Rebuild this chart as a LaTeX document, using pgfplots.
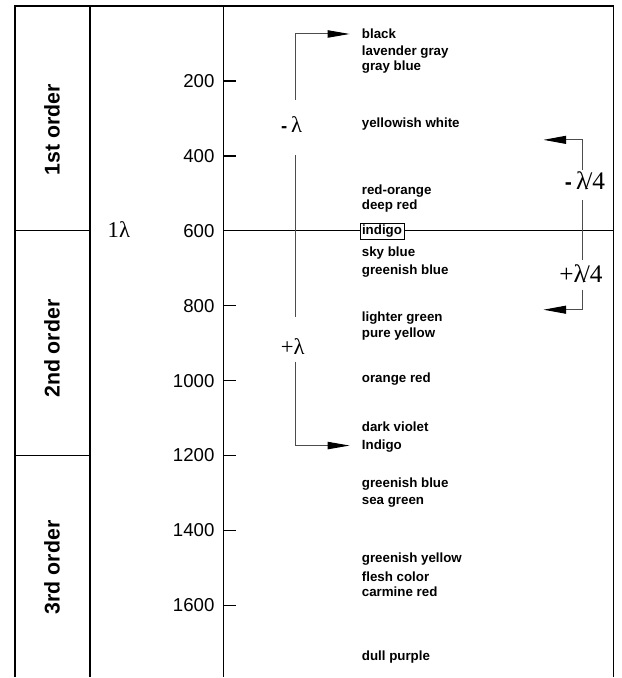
\documentclass[border=0pt]{standalone}
\usepackage{pgfplots}
\pgfplotsset{compat=1.18}
\usepackage{pgfplotstable}
\usepackage{fontspec}
\setmainfont{Liberation Sans}
\newfontfamily\serifl{Liberation Serif}
\usetikzlibrary{arrows.meta}

\pgfplotstableread[col sep=comma]{
x,y,label
362,86,black
362,131,lavender gray
362,173,gray blue
362,325,yellowish white
362,504,red-orange
362,543,deep red
362,669,sky blue
362,717,greenish blue
362,842,lighter green
362,885,pure yellow
362,1005,orange red
362,1135,dark violet
362,1184,Indigo
362,1285,greenish blue
362,1331,sea green
362,1485,greenish yellow
362,1535,flesh color
362,1575,carmine red
362,1746,dull purple
}\colornames

\newcommand{\hy}{{\normalfont\bfseries\fontsize{14}{14}\selectfont -}}

\begin{document}
\begin{tikzpicture}
\begin{axis}[
  x=0.75pt, y=0.28125pt, y dir=reverse,
  xmin=224, xmax=614, ymin=0, ymax=1792,
  axis x line=none, axis y line=left,
  axis line style={-, line width=1pt, black},
  ytick={200,400,...,1600},
  tick align=inside, major tick length=9pt,
  tick style={line width=1pt, black},
  yticklabel style={font=\fontsize{14}{14}\selectfont, xshift=-3.5pt},
  /pgf/number format/assume math mode=true,
  /pgf/number format/set thousands separator={},
  clip=false,
]
\path (axis cs:0,-16) rectangle (axis cs:622,1792);
% frame
\draw[line width=1pt] (axis cs:15,1792) -- (axis cs:15,0) -- (axis cs:614,0) -- (axis cs:614,1792);
\draw[line width=1pt] (axis cs:90,0) -- (axis cs:90,1792);
\draw[line width=1pt] (axis cs:15,600) -- (axis cs:90,600);
\draw[line width=1pt] (axis cs:15,1200) -- (axis cs:90,1200);
\draw[line width=1pt] (axis cs:224,600) -- (axis cs:614,600);

% order labels
\node[rotate=90, font=\bfseries\fontsize{16}{16}\selectfont] at (axis cs:52,330.7) {1st order};
\node[rotate=90, font=\bfseries\fontsize{16}{16}\selectfont] at (axis cs:52,914.7) {2nd order};
\node[rotate=90, font=\bfseries\fontsize{16}{16}\selectfont] at (axis cs:52,1498.7) {3rd order};
\node[anchor=base, font=\serifl\fontsize{17}{17}\selectfont] at (axis cs:119,618.7) {1λ};

% brackets
\addplot[mark=none, gray!60!black, line width=0.75pt, -{Triangle[length=16.5pt,width=5.5pt,color=black]}] coordinates {(296,250.7) (296,74.7) (350,74.7)};
\addplot[mark=none, gray!60!black, line width=0.75pt] coordinates {(296,397.3) (296,829.3)};
\addplot[mark=none, gray!60!black, line width=0.75pt, -{Triangle[length=16.5pt,width=5.5pt,color=black]}] coordinates {(296,949.3) (296,1173.3) (350,1173.3)};
\addplot[mark=none, gray!60!black, line width=0.75pt, -{Triangle[length=17pt,width=6pt,color=black]}] coordinates {(583,437.3) (583,357.3) (544,357.3)};
\addplot[mark=none, gray!60!black, line width=0.75pt] coordinates {(583,517.3) (583,677.3)};
\addplot[mark=none, gray!60!black, line width=0.75pt, -{Triangle[length=17pt,width=6pt,color=black]}] coordinates {(583,757.3) (583,810.7) (544,810.7)};

\node[anchor=base, font=\serifl\fontsize{17}{17}\selectfont, inner sep=0pt] at (axis cs:292,338.7) {\hy\,λ};
\node[anchor=base, font=\serifl\fontsize{17}{17}\selectfont, inner sep=0pt] at (axis cs:293,930.7) {+λ};
\node[anchor=base, font=\serifl\fontsize{19}{19}\selectfont, fill=white, inner sep=1pt] at (axis cs:585.5,490.7) {{\normalfont\bfseries\fontsize{16}{16}\selectfont -}\,λ\kern-0.12em/4};
\node[anchor=base, font=\serifl\fontsize{19}{19}\selectfont, fill=white, inner sep=1pt] at (axis cs:581.5,738.7) {+λ\kern-0.12em/4};

% colour names
\addplot[draw=none, mark=none, nodes near coords, point meta=explicit symbolic,
  nodes near coords style={anchor=base west, inner sep=0pt, font=\bfseries\fontsize{10}{12}\selectfont}]
  table[x=x, y=y, meta=label] {\colornames};
\addplot[draw=none, mark=none, nodes near coords, point meta=explicit symbolic,
  nodes near coords style={anchor=base west, draw=black, fill=white, line width=0.6pt, inner xsep=1.5pt, inner ysep=1.2pt, font=\bfseries\fontsize{10}{12}\selectfont}]
  coordinates {(360,610.7) [indigo]};
\end{axis}
\end{tikzpicture}
\end{document}
